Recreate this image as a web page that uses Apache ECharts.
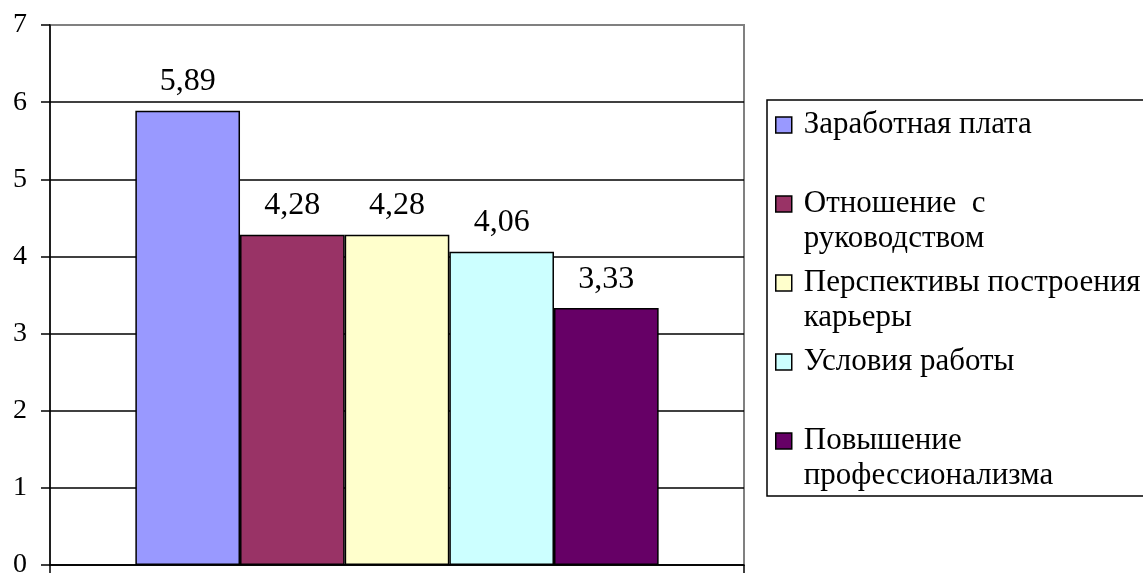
<!DOCTYPE html>
<html>
<head>
<meta charset="utf-8">
<script src="https://cdn.jsdelivr.net/npm/echarts@6/dist/echarts.min.js"></script>
<style>
  html, body { margin: 0; padding: 0; background: #fff; }
  #chart { width: 1143px; height: 579px; }
  #fontwarm { position: absolute; left: -9999px; top: 0; font-family: 'Liberation Serif'; font-size: 30px; }
</style>
</head>
<body>
<span id="fontwarm">Заработная 5,89</span>
<div id="chart"></div>
<script>
// data
const seriesNames = [
    'Заработная плата',
    'Отношение с руководством',
    'Перспективы построения карьеры',
    'Условия работы',
    'Повышение профессионализма'
];
// how the legend wraps each name (leading blank line keeps the first line level with the swatch)
const legendText = [
    ' \nЗаработная плата\n ',
    ' \nОтношение  с\nруководством',
    ' \nПерспективы построения\nкарьеры',
    ' \nУсловия работы\n ',
    ' \nПовышение\nпрофессионализма'
];
const values = [5.89, 4.28, 4.28, 4.06, 3.33];
const barColors = ['#9999FF', '#993366', '#FFFFCC', '#CCFFFF', '#660066'];

const yMin = 0;
const yMax = 7;
const yStep = 1;

const FONT = '"Liberation Serif", "Times New Roman", serif';

const chart = echarts.init(document.getElementById('chart'));

const option = {
    animation: false,
    backgroundColor: '#fff',
    textStyle: { fontFamily: FONT },
    grid: {
        left: 50,
        right: 399,
        top: 25,
        bottom: 11,
        show: true,
        borderColor: '#808080',
        borderWidth: 2,
        backgroundColor: 'transparent'
    },
    legend: {
        orient: 'vertical',
        left: 775,
        top: 72.5,
        padding: 0,
        itemGap: -26,
        itemWidth: 16,
        itemHeight: 16,
        icon: 'rect',
        selectedMode: false,
        data: seriesNames,
        formatter: (name) => legendText[seriesNames.indexOf(name)],
        itemStyle: {
            borderColor: '#000',
            borderWidth: 1.5
        },
        textStyle: {
            fontFamily: FONT,
            fontSize: 31,
            lineHeight: 35,
            color: '#000',
            padding: [0, 0, 0, 7]
        }
    },
    // legend frame (right edge runs off the picture)
    graphic: [{
        type: 'rect',
        shape: { x: 767, y: 100, width: 420, height: 396 },
        style: { fill: 'none', stroke: '#000', lineWidth: 1.5 },
        silent: true
    }],
    xAxis: {
        type: 'category',
        data: [''],
        axisLine: { lineStyle: { color: '#000', width: 1.5 } },
        axisTick: { show: true, length: 8, lineStyle: { color: '#000', width: 1.5 } },
        axisLabel: { show: false },
        splitLine: { show: false }
    },
    yAxis: {
        type: 'value',
        min: yMin,
        max: yMax,
        interval: yStep,
        axisLine: { show: true, lineStyle: { color: '#000', width: 1.5 } },
        axisTick: { show: true, length: 9, lineStyle: { color: '#000', width: 1.5 } },
        axisLabel: {
            margin: 23,
            fontFamily: FONT,
            fontSize: 28,
            color: '#000'
        },
        splitLine: {
            show: true,
            showMaxLine: false,
            lineStyle: { color: '#000', width: 1.5 }
        }
    },
    series: seriesNames.map((name, i) => ({
        name: name,
        type: 'bar',
        data: [values[i]],
        barGap: '0%',
        barCategoryGap: '24.6%',
        itemStyle: {
            color: barColors[i],
            borderColor: '#000',
            borderWidth: 1.5
        },
        label: {
            show: true,
            position: 'top',
            distance: 13,
            fontFamily: FONT,
            fontSize: 32,
            lineHeight: 32,
            color: '#000',
            formatter: (p) => p.value.toFixed(2).replace('.', ',')
        }
    }))
};

chart.setOption(option);

// the family keeps getting lost here, so push it onto the drawn text spans
try {
    const zr = chart.getZr();
    zr.storage.getDisplayList(true).forEach((el) => {
        if (el.style && el.style.text != null && typeof el.style.font === 'string') {
            const m = el.style.font.match(/(\d+(\.\d+)?)px/);
            if (m && el.style.font.indexOf('Liberation Serif') < 0) {
                el.style.font = m[1] + 'px ' + FONT;
                el.markRedraw();
            }
        }
    });
    zr.refreshImmediately();
} catch (e) {
    console.log('font patch failed', e);
}
</script>
</body>
</html>
